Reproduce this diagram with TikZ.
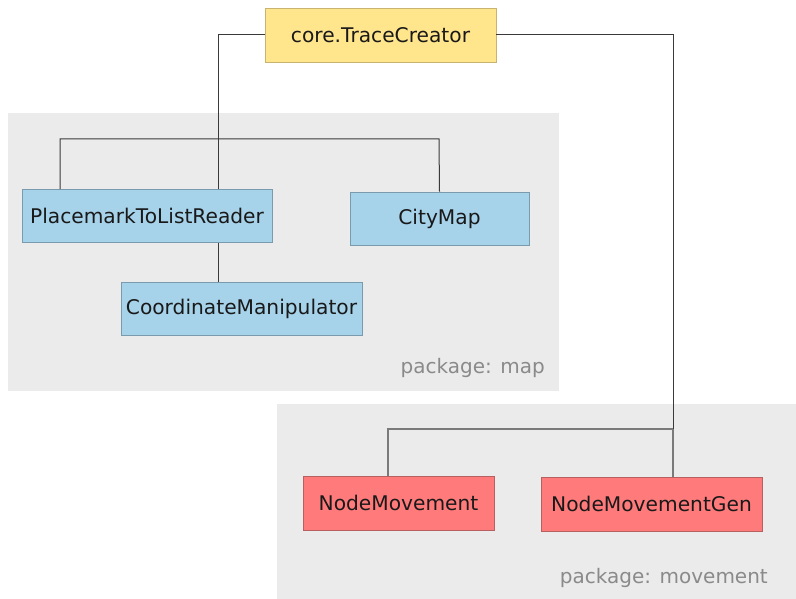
\documentclass[tikz,border=0pt]{standalone}
\usepackage{fontspec}
\setmainfont{DejaVu Sans}
\begin{document}
\begin{tikzpicture}[x=1pt,y=-1pt,
  box/.style={draw, line width=0.8pt, inner sep=0pt, font=\fontsize{20.2}{24}\selectfont, text=black!90},
  core/.style={box, fill=corefill, draw=coredraw},
  mapcls/.style={box, fill=mapfill, draw=mapdraw},
  movcls/.style={box, fill=movfill, draw=movdraw},
  pkg/.style={fill=pkgfill, draw=none},
  pkglabel/.style={font=\fontsize{20}{24}\selectfont, text=pkgtext, anchor=east, inner sep=0pt},
  link/.style={draw=linkdark, line width=1pt},
  linkg/.style={draw=linkgray, line width=1.3pt}]
\definecolor{corefill}{HTML}{FFE58C}
\definecolor{coredraw}{HTML}{C8B46E}
\definecolor{mapfill}{HTML}{A6D2EA}
\definecolor{mapdraw}{HTML}{7A9AAE}
\definecolor{movfill}{HTML}{FF7B7B}
\definecolor{movdraw}{HTML}{B86060}
\definecolor{pkgfill}{HTML}{EBEBEB}
\definecolor{pkgtext}{HTML}{8A8A8A}
\definecolor{linkdark}{HTML}{3A3A3A}
\definecolor{linkgray}{HTML}{7A7A7A}
\useasboundingbox (0,0) rectangle (796,599);
% packages
\path[pkg] (8,113) rectangle (559,391);
\path[pkg] (277,404) rectangle (796,599);
\node[pkglabel] (lmap) at (545,368) {package: map};
\node[pkglabel] (lmov) at (768,578) {package: movement};
% nodes
\node[core, minimum width=231pt, minimum height=54pt] (tc) at (380.5,35) {core.TraceCreator};
\node[mapcls, minimum width=250pt, minimum height=53pt] (plr) at (147,216) {PlacemarkToListReader};
\node[mapcls, minimum width=179pt, minimum height=53pt] (city) at (439.5,218.5) {CityMap};
\node[mapcls, minimum width=241pt, minimum height=53pt] (cm) at (241.5,309) {CoordinateManipulator};
\node[movcls, minimum width=191pt, minimum height=54pt] (nm) at (398.5,503) {NodeMovement};
\node[movcls, minimum width=221pt, minimum height=54pt] (nmg) at (651.5,504) {NodeMovementGen};
% connector coordinates
\coordinate (tl) at (218,35);
\coordinate (mapl) at (60,139);
\coordinate (mapr) at (439,139);
\coordinate (tr) at (673,35);
\coordinate (movl) at (388,429);
\coordinate (movr) at (673,429);
% connectors
\draw[link] (tc.west) -- (tl) -- (tl |- plr.north);
\draw[link] (mapl |- plr.north) -- (mapl) -- (mapr) -- (city.north);
\draw[link] (tl |- plr.south) -- (tl |- cm.north);
\draw[link] (tc.east) -- (tr) -- (movr);
\draw[linkg] (movr) -- (tr |- nmg.north);
\draw[linkg] (movl |- nm.north) -- (movl) -- (movr);
\end{tikzpicture}
\end{document}
